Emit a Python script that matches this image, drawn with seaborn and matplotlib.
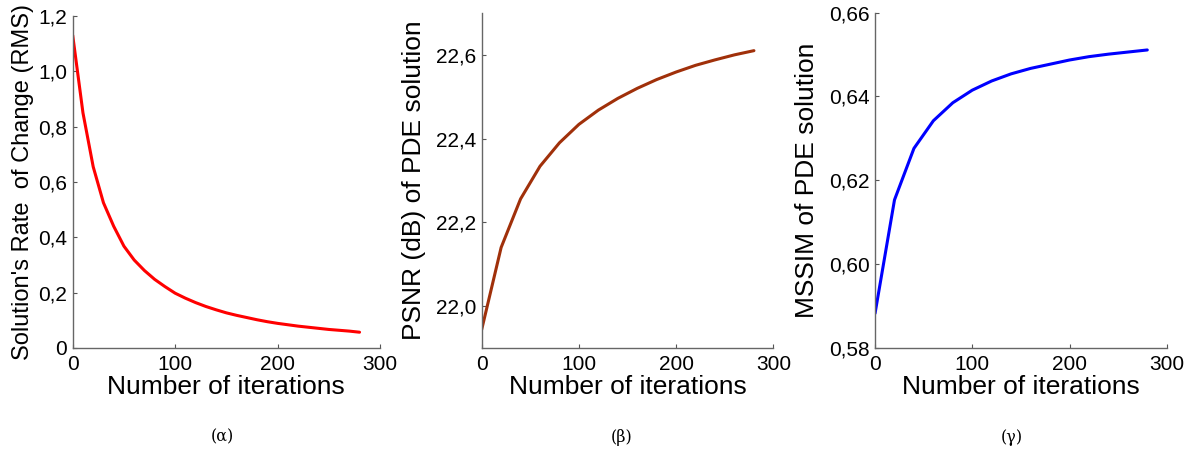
import numpy as np
import pandas as pd
import matplotlib
matplotlib.use("Agg")
import matplotlib.pyplot as plt
from matplotlib.ticker import FuncFormatter
import seaborn as sns

# Iteration counts
iters_rms = [0, 10, 20, 30, 40, 50, 60, 70, 80, 90, 100, 110, 120, 130, 140,
             150, 160, 170, 180, 190, 200, 210, 220, 230, 240, 250, 260, 270, 280]
iters_q = [0, 20, 40, 60, 80, 100, 120, 140, 160, 180, 200, 220, 240, 260, 280]

# Solution's rate of change (RMS)
rms = [1.13, 0.85, 0.655, 0.525, 0.44, 0.368, 0.318, 0.28, 0.248, 0.222, 0.198,
       0.18, 0.164, 0.15, 0.138, 0.127, 0.118, 0.11, 0.102, 0.095, 0.089,
       0.084, 0.079, 0.075, 0.071, 0.067, 0.064, 0.061, 0.057]

# PSNR (dB) of the PDE solution
psnr = [21.944, 22.14, 22.256, 22.334, 22.39, 22.434, 22.468, 22.496, 22.52,
        22.541, 22.559, 22.575, 22.588, 22.6, 22.61]

# MSSIM of the PDE solution
mssim = [0.5882, 0.6153, 0.6276, 0.6342, 0.6385, 0.6415, 0.6437, 0.6454,
         0.6467, 0.6477, 0.6487, 0.6495, 0.6501, 0.6506, 0.6511]

xticks = [0, 100, 200, 300]
yticks_rms = [0, 0.2, 0.4, 0.6, 0.8, 1.0, 1.2]
yticks_psnr = [22.0, 22.2, 22.4, 22.6]
yticks_mssim = [0.58, 0.60, 0.62, 0.64, 0.66]

sns.set_theme(style="white")
plt.rcParams["font.family"] = ["Liberation Sans", "DejaVu Sans"]
plt.rcParams["text.color"] = "black"
plt.rcParams["axes.labelcolor"] = "black"

fig = plt.figure(figsize=(11.92, 4.55), dpi=100)

panels = [
    dict(pos=[0.061, 0.2352, 0.2578, 0.7297], x=iters_rms, y=rms, color="#ff0000",
         ylim=(0, 1.2), yticks=yticks_rms, dec=1, ylsize=17, ylpad=3,
         ylabel="Solution's Rate  of Change (RMS)", caption="(α)", cx=222),
    dict(pos=[0.4041, 0.2352, 0.2447, 0.7363], x=iters_q, y=psnr, color="#a0300a",
         ylim=(21.9, 22.7), yticks=yticks_psnr, dec=1, ylsize=19, ylpad=7,
         ylabel="PSNR (dB) of PDE solution", caption="(β)", cx=622),
    dict(pos=[0.7341, 0.2358, 0.2447, 0.7363], x=iters_q, y=mssim, color="#0000ff",
         ylim=(0.58, 0.66), yticks=yticks_mssim, dec=2, ylsize=19, ylpad=7,
         ylabel="MSSIM of PDE solution", caption="(γ)", cx=1012),
]


def comma_fmt(dec):
    def f(v, pos):
        if abs(v) < 1e-12:
            return "0"
        return f"{v:.{dec}f}".replace(".", ",")
    return f


for p in panels:
    ax = fig.add_axes(p["pos"])
    df = pd.DataFrame({"it": p["x"], "val": p["y"]})
    sns.lineplot(data=df, x="it", y="val", ax=ax, color=p["color"], linewidth=2.2)
    ax.set_xlim(0, 300)
    ax.set_ylim(*p["ylim"])
    ax.set_xticks(xticks)
    ax.set_yticks(p["yticks"])
    ax.yaxis.set_major_formatter(FuncFormatter(comma_fmt(p["dec"])))
    ax.set_xlabel("Number of iterations", fontsize=19, labelpad=1)
    ax.set_ylabel(p["ylabel"], fontsize=p["ylsize"], labelpad=p["ylpad"])
    ax.tick_params(axis="both", direction="in", length=3, width=0.8,
                   labelsize=15, colors="#555555", labelcolor="black",
                   left=True, bottom=True)
    ax.tick_params(axis="x", pad=5)
    ax.tick_params(axis="y", pad=4)
    for s in ["top", "right"]:
        ax.spines[s].set_visible(False)
    for s in ["left", "bottom"]:
        ax.spines[s].set_color("#666666")
        ax.spines[s].set_linewidth(1.0)
    fig.text(p["cx"] / 1192, 1 - 437 / 455, p["caption"], ha="center", va="center",
             fontsize=11.5, family=["DejaVu Serif"])

fig.savefig("out.png", dpi=100, facecolor="white")
